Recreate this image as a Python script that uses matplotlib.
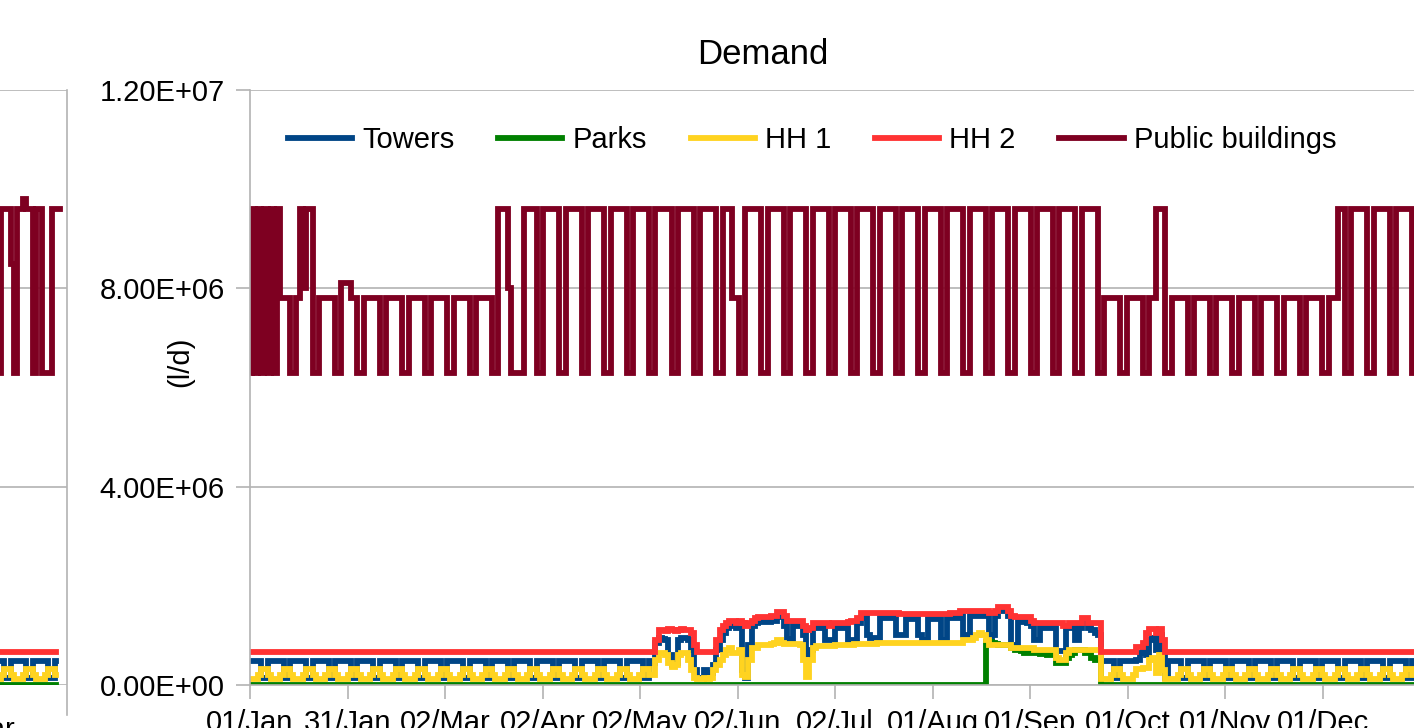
import numpy as np
import matplotlib
matplotlib.use("Agg")
import matplotlib.pyplot as plt

plt.rcParams['font.family'] = ['Liberation Sans', 'DejaVu Sans']

# ---- data (daily, year starts on a Sunday) ----
tick_labels = ['01/Jan', '31/Jan', '02/Mar', '02/Apr', '02/May', '02/Jun',
               '02/Jul', '01/Aug', '01/Sep', '01/Oct', '01/Nov', '01/Dec']
y_ticks = [0, 4e6, 8e6, 1.2e7]
y_labels = ['0.00E+00', '4.00E+06', '8.00E+06', '1.20E+07']

# public buildings, one string per week (Sun..Sat), codes below
pb_levels = {'H': 96, 'M': 78, 'L': 63, 'A': 81, 'N': 80}
public_weeks = [
    "LHLHLHL", "HLHMMML", "LMHNHHL", "LMMMMML", "LAAAMML", "LMMMMML",
    "LMMMMML", "LMMMMML", "LMMMMML", "LMMMMML", "LMMMMML", "LHHHNLL",
    "LLHHHHL", "LHHHHHL", "LHHHHHL", "LHHHHHL", "LHHHHHL", "LHHHHHL",
    "LHHHHHL", "LHHHHHL", "LHHHHHL", "LHHHMML", "LHHHHHL", "LHHHHHL",
    "LHHHHHL", "LHHHHHL", "LHHHHHL", "LHHHHHL", "LHHHHHL", "LHHHHHL",
    "LHHHHHL", "LHHHHHL", "LHHHHHL", "LHHHHHL", "LHHHHHL", "LHHHHHL",
    "LHHHHHL", "LHHHHHL", "LMMMMML", "LMMMMML", "LMMHHHL", "LMMMMML",
    "LMMMMML", "LMMMMML", "LMMMMML", "LMMMMML", "LMMMMML", "LMMMMML",
    "LMMMHHL", "LHHHHHL", "LHHHHHL", "LHHHHHL", "L",
]

# lower series in 1e5 l/d, one row per week
hh2 = [
    [6.6]*7, [6.6]*7, [6.6]*7, [6.6]*7, [6.6]*7, [6.6]*7,
    [6.6]*7, [6.6]*7, [6.6]*7, [6.6]*7, [6.6]*7, [6.6]*7,
    [6.6]*7, [6.6]*7, [6.6]*7, [6.6]*7, [6.6]*7, [6.6]*7,
    [6.6, 9.0, 11.1, 11.0, 10.8, 11.2, 11.0],
    [10.8, 11.0, 11.2, 11.0, 11.0, 10.5, 8.0],
    [6.6, 6.6, 6.6, 6.6, 6.6, 6.6, 9.0],
    [11.0, 12.0, 12.5, 13.0, 13.0, 12.5, 13.0],
    [12.5, 12.0, 12.5, 13.0, 13.5, 13.8, 13.8],
    [13.8, 13.8, 14.0, 14.0, 14.8, 14.8, 14.0],
    [13.0, 13.0, 13.0, 13.0, 13.0, 12.0, 11.1],
    [11.5, 12.5, 12.5, 12.5, 12.5, 12.5, 12.0],
    [12.5, 12.5, 12.5, 12.5, 12.5, 12.8, 13.0],
    [13.0, 13.5, 14.5, 14.5, 14.5, 14.5, 14.5],
    [14.5, 14.5, 14.5, 14.5, 14.5, 14.5, 14.5],
    [14.3, 14.3, 14.3, 14.3, 14.3, 14.3, 14.3],
    [14.3, 14.3, 14.3, 14.3, 14.3, 14.3, 14.3],
    [14.3, 14.3, 14.5, 14.5, 14.5, 15.0, 15.0],
    [15.0, 15.0, 15.0, 15.0, 15.0, 15.0, 15.0],
    [14.5, 14.5, 15.0, 15.8, 15.8, 15.8, 15.0],
    [14.0, 13.8, 13.8, 13.8, 13.8, 13.8, 13.0],
    [12.5, 12.5, 12.5, 12.5, 12.5, 12.5, 12.5],
    [12.5, 12.5, 12.0, 12.0, 12.5, 12.5, 12.5],
    [12.5, 13.5, 13.5, 12.5, 12.5, 12.5, 12.5],
    [6.6]*7,
    [6.6, 6.6, 6.6, 6.6, 7.7, 7.7, 8.5],
    [10.5, 11.2, 11.2, 10.5, 11.2, 9.0, 6.6],
    [6.6]*7, [6.6]*7, [6.6]*7, [6.6]*7, [6.6]*7, [6.6]*7,
    [6.6]*7, [6.6]*7, [6.6]*7, [6.6]*7, [6.6]*7,
    [6.6],
]

W_T = [4.8, 4.8, 4.8, 4.8, 1.4, 1.4, 4.8]
towers = [
    W_T, W_T, W_T, W_T, W_T, W_T, W_T, W_T, W_T, W_T, W_T, W_T,
    W_T, W_T, W_T, W_T, W_T, W_T,
    [4.5, 8.5, 9.5, 9.3, 9.0, 6.0, 4.0],
    [4.5, 9.0, 9.5, 9.5, 9.0, 7.0, 3.0],
    [1.4, 1.4, 3.0, 1.4, 2.5, 4.0, 7.0],
    [9.0, 10.5, 11.5, 12.0, 12.0, 11.5, 12.0],
    [3.0, 1.4, 8.0, 12.0, 12.5, 12.8, 12.8],
    [12.8, 12.8, 13.0, 13.0, 13.8, 13.8, 12.0],
    [9.3, 9.0, 12.0, 12.0, 12.0, 10.0, 5.0],
    [7.0, 11.5, 11.5, 11.5, 11.5, 9.0, 9.0],
    [9.0, 11.5, 11.5, 11.5, 11.5, 9.0, 9.0],
    [9.0, 12.5, 13.5, 13.5, 10.0, 9.5, 9.5],
    [9.5, 13.5, 13.5, 13.5, 13.5, 13.5, 10.0],
    [10.0, 10.0, 13.3, 13.3, 13.3, 13.3, 10.0],
    [9.0, 9.0, 13.3, 13.3, 13.3, 13.3, 9.0],
    [9.0, 13.5, 13.5, 13.5, 13.5, 14.0, 10.0],
    [10.0, 14.0, 14.0, 14.0, 14.0, 14.0, 14.5],
    [9.5, 10.0, 14.0, 15.0, 15.0, 15.0, 14.0],
    [8.1, 8.1, 12.8, 12.8, 12.8, 12.5, 12.0],
    [9.0, 9.0, 11.5, 11.5, 11.5, 11.5, 11.5],
    [6.9, 6.9, 6.9, 11.5, 11.5, 11.5, 9.0],
    [11.5, 12.5, 12.5, 11.5, 11.0, 10.5, 10.0],
    W_T,
    [4.8, 4.8, 4.8, 4.8, 5.0, 6.5, 7.5],
    [6.0, 9.0, 9.5, 7.0, 10.0, 6.0, 1.4],
    W_T, W_T, W_T, W_T, W_T, W_T, W_T, W_T, W_T, W_T, W_T,
    [4.8],
]

W_Y = [1.2, 1.2, 1.2, 2.0, 3.2, 3.2, 2.0]
hh1 = [
    W_Y, W_Y, W_Y, W_Y, W_Y, W_Y, W_Y, W_Y, W_Y, W_Y, W_Y, W_Y,
    W_Y, W_Y, W_Y, W_Y, W_Y, W_Y,
    [2.0, 5.0, 6.5, 6.5, 6.0, 4.5, 3.7],
    [4.0, 6.0, 6.5, 6.5, 5.0, 3.0, 1.5],
    [1.2, 1.2, 1.5, 1.2, 1.5, 3.0, 4.0],
    [5.0, 6.0, 7.0, 7.5, 6.5, 6.5, 7.0],
    [2.0, 1.6, 5.0, 7.5, 7.5, 8.0, 8.0],
    [8.0, 8.0, 8.2, 8.5, 9.0, 8.5, 8.2],
    [8.2, 8.2, 8.2, 8.2, 8.0, 5.0, 1.6],
    [5.0, 7.5, 7.8, 7.8, 7.8, 7.8, 7.8],
    [7.8, 8.0, 8.0, 8.0, 8.0, 8.0, 8.0],
    [8.2, 8.2, 8.2, 8.2, 8.2, 8.2, 8.2],
    [8.5, 8.5, 8.5, 8.5, 8.5, 8.5, 8.5],
    [8.5, 8.5, 8.5, 8.5, 8.5, 8.5, 8.5],
    [8.5, 8.5, 8.5, 8.5, 8.5, 8.5, 8.5],
    [8.5, 8.5, 8.5, 8.5, 8.5, 8.5, 9.0],
    [9.0, 9.0, 9.5, 10.0, 10.5, 10.0, 9.0],
    [8.0, 8.0, 8.0, 8.0, 8.0, 8.0, 8.0],
    [7.5, 7.5, 7.5, 7.5, 7.5, 7.5, 7.5],
    [7.0, 7.0, 7.0, 7.0, 7.0, 7.0, 7.0],
    [5.5, 5.0, 5.0, 6.5, 7.0, 7.0, 7.0],
    [7.0, 7.0, 7.0, 7.0, 7.0, 7.0, 7.0],
    W_Y,
    [1.2, 1.2, 1.2, 2.0, 3.2, 3.2, 3.4],
    [3.4, 5.0, 5.5, 2.5, 6.0, 3.0, 1.2],
    W_Y, W_Y, W_Y, W_Y, W_Y, W_Y, W_Y, W_Y, W_Y, W_Y, W_Y,
    [1.2],
]

parks = [[0.0]*7]*32 + [
    [0.0, 0.0, 0.0, 0.0, 0.0, 0.0, 8.7],
    [8.7, 8.5, 8.3, 8.1, 8.1, 8.1, 8.0],
    [7.5, 7.0, 7.0, 6.8, 6.5, 6.5, 6.5],
    [6.5, 6.5, 6.3, 6.2, 6.0, 6.0, 6.0],
    [4.4, 4.4, 4.4, 5.5, 6.0, 6.5, 7.0],
    [7.0, 7.0, 6.5, 6.5, 5.5, 5.0, 5.0],
] + [[0.0]*7]*15 + [[0.0]]

# small strip of the neighbouring chart at the left edge
left_public = [63, 96, 96, 96, 85, 63, 96, 96, 98, 96, 96, 63, 96, 96, 63, 63, 63, 96, 96, 96]
left_hh2 = [6.6]*19
left_towers = [4.8, 4.8, 1.4, 1.4, 4.8, 4.8, 4.8, 4.8, 4.8, 1.4, 1.4, 4.8, 4.8, 4.8, 4.8, 4.8, 1.4, 1.4, 4.8]
left_hh1 = [1.2, 2.0, 3.2, 3.2, 2.0, 1.2, 1.2, 1.2, 2.0, 3.2, 3.2, 2.0, 1.2, 1.2, 1.2, 2.0, 3.2, 3.2, 2.0]
left_parks = [0.0]*19

names = ['Towers', 'Parks', 'HH 1', 'HH 2', 'Public buildings']
colors = ['#004586', '#008000', '#ffd320', '#ff3333', '#7e0021']


def flat(rows):
    return np.array([v for r in rows for v in r]) * 1e5


public = np.array([pb_levels[c] for w in public_weeks for c in w]) * 1e5
series = [flat(towers), flat(parks), flat(hh1), flat(hh2), public]

W, H = 1414, 728
fig = plt.figure(figsize=(W / 100, H / 100), dpi=100)
grid_c = '#b3b3b3'
fs = 21
lw = 4.2

# main chart
ax = fig.add_axes([250 / W, 43 / H, 1170 / W, 595 / H])
for vals, c, n in zip(series, colors, names):
    ax.plot(np.arange(len(vals)), vals, color=c, lw=lw, label=n,
            drawstyle='steps-mid', solid_joinstyle='miter')
ax.set_xlim(0, 365)
ax.set_ylim(0, 1.2e7)
ax.set_yticks(y_ticks)
ax.set_yticklabels(y_labels)
ax.set_xticks([k * 365 / 12 for k in range(12)])
ax.set_xticklabels(tick_labels)
ax.grid(axis='y', color=grid_c, lw=1.2)
ax.set_axisbelow(True)
for s in ['top', 'right']:
    ax.spines[s].set_visible(False)
for s in ['left', 'bottom']:
    ax.spines[s].set_color(grid_c)
    ax.spines[s].set_linewidth(1.2)
ax.tick_params(axis='y', colors=grid_c, length=10, width=1.2, pad=8,
               labelsize=fs, labelcolor='black')
ax.tick_params(axis='x', colors=grid_c, length=10, width=1.2, pad=7,
               labelsize=fs, labelcolor='black')
fig.text(180 / W, 1 - 362 / H, '(l/d)', fontsize=fs, rotation=90,
         ha='center', va='center')
fig.text(763 / W, 1 - 55 / H, 'Demand', fontsize=25,
         ha='center', va='center')
ax.legend(loc='center', bbox_to_anchor=(812 / W, 1 - 140 / H),
          bbox_transform=fig.transFigure, ncol=5, frameon=False,
          fontsize=fs, handlelength=2.2, handletextpad=0.35,
          columnspacing=1.5)

# neighbouring chart, cut by the left border
ax2 = fig.add_axes([-400 / W, 43 / H, 467 / W, 595 / H])
left_series = [left_towers, left_parks, left_hh1, left_hh2]
for vals, c in zip(left_series, colors[:4]):
    ax2.plot(np.arange(len(vals)), np.array(vals) * 1e5, color=c, lw=lw,
             drawstyle='steps-mid', solid_joinstyle='miter')
ax2.plot(np.arange(len(left_public)), np.array(left_public) * 1e5,
         color=colors[4], lw=lw, drawstyle='steps-mid', solid_joinstyle='miter')
ax2.set_xlim(19.5 - 467 / 3.2, 19.5 + 5 / 3.2 + 0.3)
ax2.set_ylim(0, 1.2e7)
ax2.set_yticks(y_ticks)
ax2.set_yticklabels([])
ax2.set_xticks([19.5 - 92 / 3.2])
ax2.set_xticklabels(['02/Mar'])
ax2.grid(axis='y', color=grid_c, lw=1.2)
ax2.set_axisbelow(True)
for s in ['top', 'left', 'bottom']:
    ax2.spines[s].set_visible(False)
ax2.spines['right'].set_color(grid_c)
ax2.spines['right'].set_linewidth(1.2)
ax2.spines['right'].set_bounds(-0.06e7, 1.2e7)
ax2.tick_params(axis='both', length=0, labelsize=fs, pad=22)

fig.savefig('out.png', dpi=100)
